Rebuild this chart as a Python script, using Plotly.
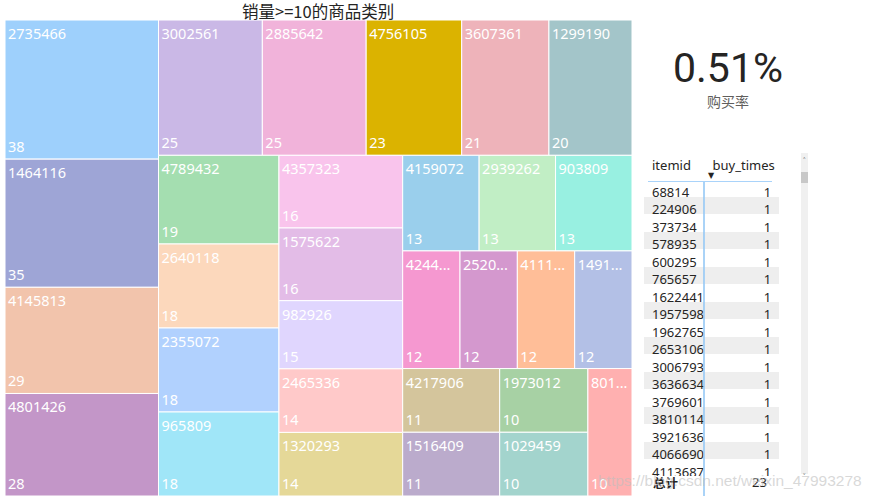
import plotly.graph_objects as go

# ---------------- data ----------------
category_ids = [
    "2735466", "1464116", "4145813", "4801426",
    "3002561", "2885642", "4756105", "3607361", "1299190",
    "4789432", "2640118", "2355072", "965809",
    "4357323", "1575622", "982926", "2465336", "1320293",
    "4159072", "2939262", "903809",
    "4244...", "2520...", "4111...", "1491...",
    "4217906", "1516409", "1973012", "1029459", "801...",
]
sales_counts = [
    38, 35, 29, 28,
    25, 25, 23, 21, 20,
    19, 18, 18, 18,
    16, 16, 15, 14, 14,
    13, 13, 13,
    12, 12, 12, 12,
    11, 11, 10, 10, 10,
]
tile_colors = [
    "#9ED0FC", "#9EA5D6", "#F2C4AC", "#C396C8",
    "#CAB8E6", "#F1B3DA", "#DBB300", "#EEB3BA", "#A3C5C9",
    "#A4DEB0", "#FCD8BC", "#B1D1FE", "#A0E6F8",
    "#F9C4EC", "#E3BCE7", "#E0D6FE", "#FFC9C9", "#E5D898",
    "#9ACFEC", "#C1EEC5", "#98F0E1",
    "#F598D0", "#D498CE", "#FFBE98", "#B3C0E6",
    "#D4C59C", "#BBABCC", "#A7D1A4", "#A3D4CD", "#FFB0B0",
]

item_ids = [
    "68814", "224906", "373734", "578935", "600295", "765657",
    "1622441", "1957598", "1962765", "2653106", "3006793", "3636634",
    "3769601", "3810114", "3921636", "4066690", "4113687",
]
buy_times = [1, 1, 1, 1, 1, 1, 1, 1, 1, 1, 1, 1, 1, 1, 1, 1, 1]
buy_total = 23
buy_rate_pct = 0.51

chart_title = "销量>=10的商品类别"
kpi_label = "购买率"
table_headers = ["itemid", "buy_times"]
total_label = "总计"
watermark = "https://blog.csdn.net/weixin_47993278"

# ---------------- layout helpers ----------------
W, H = 873, 498


def px(x):
    return x / W


def py(y):
    return 1 - y / H


TILE_FONT = "Noto Sans, Open Sans, sans-serif"
CJK_FONT = "Noto Sans CJK SC, Noto Sans, sans-serif"

fig = go.Figure()

tm_domain = dict(x=[px(5), px(632)], y=[py(496), py(20)])
tiling = dict(packing="squarify", squarifyratio=1.618, pad=0)

fig.add_trace(go.Treemap(
    labels=category_ids,
    parents=[""] * len(category_ids),
    values=sales_counts,
    sort=True,
    marker=dict(colors=tile_colors, line=dict(color="white", width=1),
                pad=dict(t=0, l=0, r=0, b=0)),
    tiling=tiling,
    texttemplate="%{label}",
    textposition="top left",
    textfont=dict(family=TILE_FONT, size=14.5, color="white"),
    pathbar=dict(visible=False),
    domain=tm_domain,
    hoverinfo="label+value",
))

fig.add_trace(go.Treemap(
    labels=category_ids,
    parents=[""] * len(category_ids),
    values=sales_counts,
    sort=True,
    marker=dict(colors=["rgba(0,0,0,0)"] * len(category_ids),
                line=dict(color="rgba(0,0,0,0)", width=0),
                pad=dict(t=0, l=0, r=0, b=0)),
    tiling=tiling,
    texttemplate="%{value}",
    textposition="bottom left",
    textfont=dict(family=TILE_FONT, size=14.5, color="white"),
    pathbar=dict(visible=False),
    domain=tm_domain,
    hoverinfo="skip",
))

n = len(item_ids)
row_fill = ["white" if i % 2 == 0 else "#EEEEEE" for i in range(n)]

fig.add_trace(go.Table(
    domain=dict(x=[px(644), px(791)], y=[py(476), py(152)]),
    columnwidth=[61, 75, 11],
    header=dict(
        values=table_headers + [""],
        align=["left", "left", "left"],
        fill_color="white",
        line=dict(color="rgba(0,0,0,0)", width=0),
        font=dict(family=TILE_FONT, size=13, color="#252423"),
        height=27,
    ),
    cells=dict(
        values=[item_ids, buy_times, [""] * n],
        align=["left", "right", "left"],
        fill_color=[row_fill, row_fill, ["white"] * n],
        line=dict(color="rgba(0,0,0,0)", width=0),
        font=dict(family=TILE_FONT, size=13, color="#252423"),
        height=17.5,
    ),
))

shapes = [
    # header underline
    dict(type="line", xref="paper", yref="paper", x0=px(648), x1=px(772),
         y0=py(181.5), y1=py(181.5), line=dict(color="#A9D3FA", width=1)),
    # column divider
    dict(type="line", xref="paper", yref="paper", x0=px(704), x1=px(704),
         y0=py(182), y1=py(496), line=dict(color="#8EC5F5", width=1.5)),
    # scrollbar track
    dict(type="rect", xref="paper", yref="paper", x0=px(801), x1=px(808),
         y0=py(474), y1=py(153), fillcolor="#F0F0F0", line=dict(width=0),
         layer="below"),
    # scrollbar thumb
    dict(type="rect", xref="paper", yref="paper", x0=px(801), x1=px(808),
         y0=py(183), y1=py(172), fillcolor="#C8C8C8", line=dict(width=0)),
]

annotations = [
    dict(text=chart_title, x=px(317.5), y=py(11), xref="paper", yref="paper",
         showarrow=False, xanchor="center", yanchor="middle",
         font=dict(family=CJK_FONT, size=16.5, color="#252423")),
    dict(text=f"{buy_rate_pct:.2f}%", x=px(728), y=py(68), xref="paper", yref="paper",
         showarrow=False, xanchor="center", yanchor="middle",
         font=dict(family="Roboto, sans-serif", size=41, color="#252423")),
    dict(text=kpi_label, x=px(728), y=py(101), xref="paper", yref="paper",
         showarrow=False, xanchor="center", yanchor="middle",
         font=dict(family=CJK_FONT, size=14, color="#605E5C")),
    dict(text="▼", x=px(711), y=py(176), xref="paper", yref="paper",
         showarrow=False, xanchor="center", yanchor="middle",
         font=dict(family="DejaVu Sans, sans-serif", size=8, color="#252423")),
    dict(text=f"<b>{total_label}</b>", x=px(651), y=py(482), xref="paper", yref="paper",
         showarrow=False, xanchor="left", yanchor="middle",
         font=dict(family=CJK_FONT, size=12.5, color="#252423")),
    dict(text=str(buy_total), x=px(769), y=py(482), xref="paper", yref="paper",
         showarrow=False, xanchor="right", yanchor="middle",
         font=dict(family=TILE_FONT, size=13, color="#252423")),
    dict(text="˄", x=px(804.5), y=py(160), xref="paper", yref="paper",
         showarrow=False, xanchor="center", yanchor="middle",
         font=dict(family=TILE_FONT, size=9, color="#605E5C")),
    dict(text="˅", x=px(804.5), y=py(476), xref="paper", yref="paper",
         showarrow=False, xanchor="center", yanchor="middle",
         font=dict(family=TILE_FONT, size=9, color="#605E5C")),
    dict(text=watermark, x=px(864), y=py(480), xref="paper", yref="paper",
         showarrow=False, xanchor="right", yanchor="middle",
         font=dict(family="Liberation Sans, Arial, sans-serif", size=15.5,
                   color="rgba(190,190,190,0.6)")),
]

fig.update_layout(
    width=W, height=H,
    margin=dict(l=0, r=0, t=0, b=0),
    paper_bgcolor="white",
    plot_bgcolor="white",
    showlegend=False,
    shapes=shapes,
    annotations=annotations,
    uniformtext=dict(minsize=14.5, mode="show"),
)

fig.write_html("out.html")
